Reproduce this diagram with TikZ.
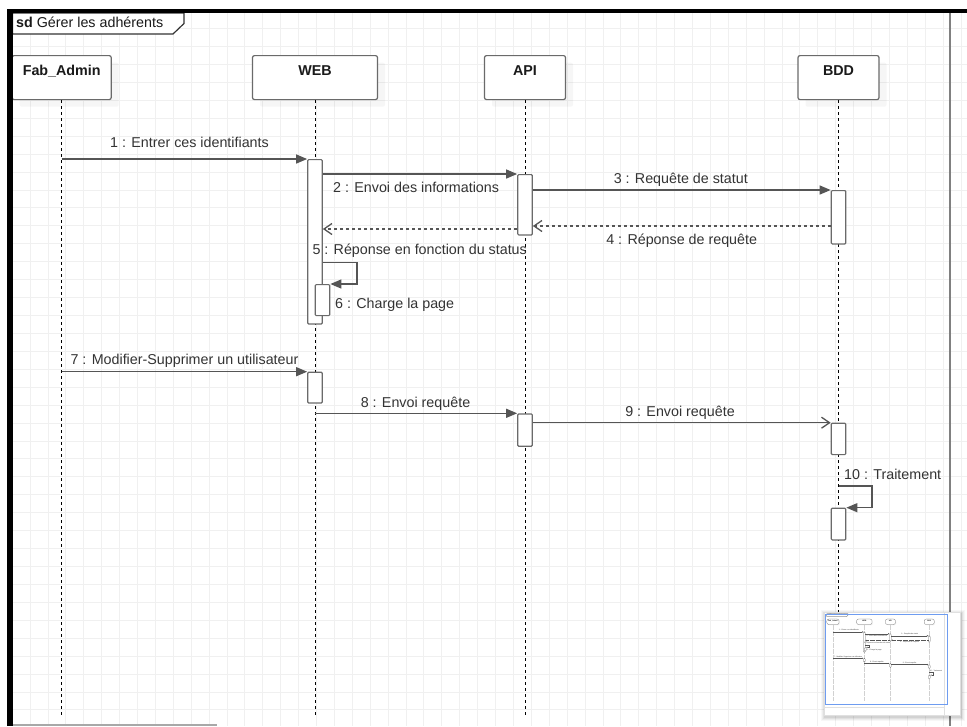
\documentclass[tikz,border=0pt]{standalone}
\usepackage{fontspec}
\setmainfont{Liberation Sans}
\usetikzlibrary{arrows.meta}

\definecolor{gridc}{HTML}{F0F0F0}
\definecolor{boxc}{HTML}{6A6A6A}
\definecolor{msgc}{HTML}{555555}
\definecolor{textc}{HTML}{333333}
\definecolor{headc}{HTML}{1A1A1A}
\definecolor{pagec}{HTML}{808080}
\definecolor{scrollc}{HTML}{A8A8A8}
\definecolor{viewc}{HTML}{6E9CF0}

\newcommand{\sqfont}{\fontsize{14.3}{17}\selectfont}
% line widths, tips, dashes and line colour (reduced for the overview)
\def\sqLwBox{1.2pt}
\def\sqLwMsg{1.3pt}
\def\sqLwLife{1pt}
\def\sqDash{3pt}
\def\sqTipL{11pt}
\def\sqTipW{9pt}
\def\sqBarbL{8pt}
\def\sqBarbW{11pt}
\def\sqLifeC{black}

\tikzset{
  gridline/.style={draw=gridc, line width=0.8pt},
  headshadow/.style={fill=black, fill opacity=0.035, minimum width=#1, minimum height=44pt,
    anchor=north, inner sep=0pt, rounded corners=2pt},
  headbox/.style={draw=boxc, line width=\sqLwBox, fill=white, minimum width=#1,
    minimum height=44pt, anchor=north, inner sep=0pt, rounded corners=2pt},
  headtext/.style={anchor=north, yshift=-10pt, inner sep=0pt, text height=10.3pt,
    text depth=0pt, font=\sqfont\bfseries, text=headc},
  lifeline/.style={draw=\sqLifeC, line width=\sqLwLife, dash pattern=on \sqDash off \sqDash},
  act/.style={draw=boxc, line width=\sqLwBox, fill=white, minimum width=14.5pt,
    anchor=north, inner sep=0pt, rounded corners=1pt},
  syncmsg/.style={draw=msgc, line width=\sqLwMsg, -{Triangle[length=\sqTipL, width=\sqTipW]}},
  asyncmsg/.style={draw=msgc, line width=\sqLwMsg, -{Straight Barb[length=\sqBarbL, width=\sqBarbW]}},
  replymsg/.style={draw=msgc, line width=\sqLwMsg, dash pattern=on \sqDash off \sqDash,
    -{Straight Barb[length=\sqBarbL, width=\sqBarbW]}},
  msglbl/.style={inner sep=0pt, text=textc, font=\sqfont},
  framelbl/.style={draw=black!80, line width=\sqLwBox, fill=white},
}

% the sequence diagram itself: frame tag, lifelines, activations, messages
\newcommand{\seqbody}{%
  \filldraw[framelbl] (12.6,13) -- (184,13) -- (184,23.5) -- (173,34) -- (12.6,34) -- cycle;
  \node[msglbl, anchor=base west, text=headc] (sdtag) at (16,27.5) {\textbf{sd} Gérer les adhérents};
  % lifeline heads with their soft shadows
  \node[headshadow=99pt]  (fabS) at (69.2,62.5) {};
  \node[headshadow=125pt] (webS) at (322.5,62.5) {};
  \node[headshadow=81pt]  (apiS) at (532.5,62.5) {};
  \node[headshadow=81pt]  (bddS) at (846,62.5) {};
  \node[headbox=99pt,  label={[headtext]north:Fab\_Admin}] (fab) at (61.7,55) {};
  \node[headbox=125pt, label={[headtext]north:WEB}]        (web) at (315,55) {};
  \node[headbox=81pt,  label={[headtext]north:API}]        (api) at (525,55) {};
  \node[headbox=81pt,  label={[headtext]north:BDD}]        (bdd) at (838.5,55) {};
  \coordinate (lend) at (0,715);
  \draw[lifeline] (fab.south) -- (fab.south |- lend);
  \draw[lifeline] (web.south) -- (web.south |- lend);
  \draw[lifeline] (api.south) -- (api.south |- lend);
  \draw[lifeline] (bdd.south) -- (bdd.south |- lend);
  % activations
  \node[act, minimum height=164.3pt] (webA1) at (315,159) {};
  \node[act, minimum height=60.3pt]  (apiA1) at (525,174) {};
  \node[act, minimum height=53.3pt]  (bddA1) at (838.5,190) {};
  \node[act, minimum height=31pt]    (webN)  at (322.5,284) {};
  \node[act, minimum height=30.6pt]  (webA2) at (315,371.7) {};
  \node[act, minimum height=32.4pt]  (apiA2) at (525,413.3) {};
  \node[act, minimum height=31.3pt]  (bddA2) at (838.5,422.7) {};
  \node[act, minimum height=31.6pt]  (bddA3) at (838.5,507.7) {};
  % message levels
  \coordinate (y4) at (0,226);
  \coordinate (y5) at (0,229);
  \coordinate (y6) at (0,262.3);
  \coordinate (y10) at (0,486);
  % messages
  \draw[syncmsg]  (fab.south |- webA1.north) -- (webA1.north west);
  \draw[syncmsg]  (webA1.east |- apiA1.north) -- (apiA1.north west);
  \draw[syncmsg]  (apiA1.east |- bddA1.north) -- (bddA1.north west);
  \draw[replymsg] (bddA1.west |- y4) -- (apiA1.east |- y4);
  \draw[replymsg] (apiA1.west |- y5) -- (webA1.east |- y5);
  \draw[syncmsg]  (webA1.east |- y6) -- ++(34,0) |- (webN.north east);
  \draw[syncmsg]  (fab.south |- webA2.north) -- (webA2.north west);
  \draw[syncmsg]  (web.south |- apiA2.north) -- (apiA2.north west);
  \draw[asyncmsg] (apiA2.east |- bddA2.north) -- (bddA2.north west);
  \draw[syncmsg]  (bdd.south |- y10) -- ++(33.5,0) |- (bddA3.north east);
  % message labels
  \node[msglbl, anchor=base]      (l1)  at (189.5,147.6) {1 : Entrer ces identifiants};
  \node[msglbl, anchor=base west] (l2)  at (333,192.5)   {2 : Envoi des informations};
  \node[msglbl, anchor=base]      (l3)  at (680.8,183.4) {3 : Requête de statut};
  \node[msglbl, anchor=base]      (l4)  at (681.7,244.5) {4 : Réponse de requête};
  \node[msglbl, anchor=base west] (l5)  at (312.3,254.2) {5 : Réponse en fonction du status};
  \node[msglbl, anchor=base west] (l6)  at (335,308.5)   {6 : Charge la page};
  \node[msglbl, anchor=base]      (l7)  at (184.5,364.5) {7 : Modifier-Supprimer un utilisateur};
  \node[msglbl, anchor=base]      (l8)  at (415.5,407.9) {8 : Envoi requête};
  \node[msglbl, anchor=base]      (l9)  at (680,416.9)   {9 : Envoi requête};
  \node[msglbl, anchor=base west] (l10) at (844,479.5)   {10 : Traitement};
}

\begin{document}
\begin{tikzpicture}[x=1pt, y=-1pt]
  \useasboundingbox (0,0) rectangle (967,726);
  \fill[white] (0,0) rectangle (967,726);

  % canvas grid
  \begin{scope}
    \clip (12.5,13) rectangle (967,726);
    \foreach \k in {0,...,53}
      \draw[gridline] ({12.1+17.904*\k},13) -- ({12.1+17.904*\k},726);
    \foreach \k in {1,...,40}
      \draw[gridline] (12.5,{10.6+17.93*\k}) -- (967,{10.6+17.93*\k});
  \end{scope}

  % page edge
  \draw[pagec, line width=1.8pt] (950,13) -- (950,726);

  \seqbody

  % heavy frame border and scroll bar
  \fill[black] (7,9) rectangle (967,13);
  \fill[black] (7,9) rectangle (12.6,726);
  \fill[scrollc] (12.6,723.6) rectangle (217,726);

  % overview panel
  \foreach \d/\o in {4/0.03,3/0.04,2/0.05,1/0.06}
    \fill[black, opacity=\o] (824.3-\d+1,612.3-\d+1.5) rectangle (960.3+\d+1,715.3+\d+1.5);
  \filldraw[fill=white, draw=black!12] (824.3,612.3) rectangle (960.3,715.3);
  \draw[black!12] (944.3,612.3) -- (944.3,715.3);
  \draw[black!12] (824.3,706.7) -- (944.3,706.7);
  \begin{scope}[shift={(825.3,612.2)}, scale=0.124, transform shape, name prefix=mini-]
    \def\sqLwBox{0.25pt}
    \def\sqLwMsg{0.25pt}
    \def\sqLwLife{0.1pt}
    \def\sqDash{0.6pt}
    \def\sqTipL{1.4pt}
    \def\sqTipW{1.1pt}
    \def\sqBarbL{1pt}
    \def\sqBarbW{1.4pt}
    \def\sqLifeC{black!18}
    \seqbody
  \end{scope}
  \draw[viewc, line width=1.2pt] (825.3,614.3) rectangle (947.7,704.3);
\end{tikzpicture}
\end{document}
